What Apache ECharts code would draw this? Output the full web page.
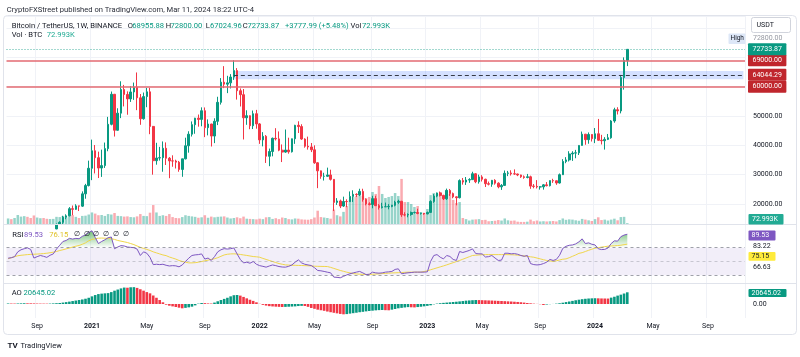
<!DOCTYPE html>
<html><head><meta charset="utf-8">
<script src="https://cdn.jsdelivr.net/npm/echarts@6/dist/echarts.min.js"></script>
<style>html,body{margin:0;padding:0;background:#fff}#c{width:800px;height:357px}</style>
</head><body><div id="c"></div>
<script>
// ---------- data ----------
const startDate = '2020-07-06';   // first weekly bar (Monday)
const totalWeeks = 229;           // bars + empty future weeks on the time scale
const opens = [
9073,9234,9160,9930,11070,11650,11870,11680,11650,10280,
10440,10920,10780,10670,11380,11500,13030,13760,15480,15960,
18400,18180,19360,19270,23460,26280,32180,38150,35790,32260,
33090,38880,47170,57410,45140,50970,59030,57350,55840,58200,
59770,56200,49070,56620,58240,46450,34770,35680,35800,39000,
35600,34700,34660,34260,31780,35400,39850,43800,47050,49270,
48850,51800,46030,47260,43170,48200,54660,61530,60860,61300,
63280,65500,58620,57270,49400,50100,46680,50780,47300,41860,
43080,36280,37900,42400,42200,38350,37700,38400,37800,42240,
46830,46400,42150,39700,39450,38470,34050,31300,29450,29450,
29900,28400,20550,21030,19300,20850,20800,22580,23300,23170,
24300,21520,20050,19830,21830,19420,18800,19050,19070,19180,
19570,20600,20920,16300,16280,16450,17100,17100,16780,16840,
16620,17130,20880,22700,23770,22940,21780,24640,23560,22430,
22150,27980,27480,28170,28320,30310,27590,29230,28430,26920,
26750,28070,27100,25840,26340,30460,30580,30290,30230,29900,
29280,29050,29280,26100,26010,25820,25840,26530,26250,27970,
27920,27150,29990,34500,35030,37060,37350,37450,39970,43800,
41940,43710,42280,43950,41730,41580,42030,42580,48300,52140,
51730,63110,68955.88];
const highs = [
9470,9330,9990,12100,11900,12480,12470,11800,12090,10800,
11180,10990,10950,11500,11720,13350,14100,15970,16480,18950,
19480,19920,19420,24300,26870,34780,41950,40100,37850,38530,
40950,49700,58350,57520,52640,61840,60600,58400,60200,61400,
64850,57500,58000,59600,59600,46620,40870,39480,41330,41000,
36000,36600,35100,34680,35400,42600,44800,48150,49380,50500,
52950,52920,48850,47360,49230,56560,62930,67000,63710,64280,
69000,66340,59400,59200,51950,50200,51870,52090,47570,44500,
43500,38900,42650,45850,44750,40300,45400,42600,42300,47000,
48200,47200,42400,42970,40800,40000,34250,31400,30650,32400,
31700,28500,22000,21500,22500,21600,24280,24670,23650,25200,
25200,21900,20580,22800,22800,19950,20400,20480,19950,19700,
21100,21450,21070,17190,16800,17420,17420,18400,17000,16950,
17400,21260,23380,23900,24250,23150,25250,25130,23900,22600,
28400,28870,29200,28800,31000,30550,30000,29820,28630,27650,
28200,28450,27400,26800,31430,31280,31500,31800,30340,30000,
29730,30250,29660,26800,28140,26100,26800,27480,28000,28600,
28000,30400,35280,35980,38000,38000,38450,40000,44700,43900,
44400,43800,45900,49000,43580,42800,43880,48600,52820,52990,
64000,69990,72800];
const lows = [
9000,9005,9030,9900,10950,11120,11375,11130,9880,9850,
10270,10130,10370,10530,11200,11410,12970,13200,14800,15800,
16200,18000,17600,19000,21800,25990,28130,30420,28850,29240,
32300,37990,46820,43000,45000,49280,53270,50430,54800,55500,
52000,47000,48750,53000,43800,30000,33400,34800,31000,33300,
28800,32700,32100,31000,29280,35200,37500,43000,43950,46370,
46500,42800,43400,39600,40750,46900,53900,59500,57800,59400,
62300,55600,53250,42000,47000,45500,45550,45680,40500,39650,
34000,32900,36250,41660,38000,34300,37450,37150,37550,40500,
44200,41870,39200,38540,37700,33700,25400,28600,28000,29250,
28000,17600,19700,18600,19000,18900,20700,20700,22400,22700,
20800,19550,19520,18540,19320,18100,18470,19000,18190,18900,
19200,20050,15600,15800,15480,16000,16730,16500,16400,16330,
16500,17100,20400,22300,22550,21350,21400,22750,21950,19550,
21900,26600,26500,27200,28170,27100,26940,27670,25800,26350,
25870,26600,25350,24800,26250,29500,29700,29950,29500,28900,
28600,28750,25170,25350,25300,24900,24900,26000,25990,27200,
26540,26970,29880,33900,34500,34700,35600,36700,39900,40200,
40550,41300,40750,41500,40300,38550,41800,42250,47700,50520,
50900,59000,67024.96];
const closes = [
9234,9160,9930,11070,11650,11870,11680,11650,10280,10440,
10920,10780,10670,11380,11500,13030,13760,15480,15960,18400,
18180,19360,19270,23460,26280,32180,38150,35790,32260,33090,
38880,47170,57410,45140,50970,59030,57350,55840,58200,59770,
56200,49070,56620,58240,46450,34770,35680,35800,39000,35600,
34700,34660,34260,31780,35400,39850,43800,47050,49270,48850,
51800,46030,47260,43170,48200,54660,61530,60860,61300,63280,
65500,58620,57270,49400,50100,46680,50780,47300,41860,43080,
36280,37900,42400,42200,38350,37700,38400,37800,42240,46830,
46400,42150,39700,39450,38470,34050,31300,29450,29450,29900,
28400,20550,21030,19300,20850,20800,22580,23300,23170,24300,
21520,20050,19830,21830,19420,18800,19050,19070,19180,19570,
20600,20920,16300,16280,16450,17100,17100,16780,16840,16620,
17130,20880,22700,23770,22940,21780,24640,23560,22430,22150,
27980,27480,28170,28320,30310,27590,29230,28430,26920,26750,
28070,27100,25840,26340,30460,30580,30290,30230,29900,29280,
29050,29280,26100,26010,25820,25840,26530,26250,27970,27920,
27150,29990,34500,35030,37060,37350,37450,39970,43800,41940,
43710,42280,43950,41730,41580,42030,42580,48300,52140,51730,
63110,68960,72733.87];
const volumes = [ // K BTC
480,420,520,780,640,680,620,520,740,560,
500,520,450,430,440,620,600,700,560,680,
780,620,520,700,720,820,1000,900,760,780,
700,860,820,950,700,680,640,660,600,580,
660,860,700,680,980,1640,1000,700,760,700,
860,600,520,500,600,760,700,660,620,540,
580,760,540,640,580,620,640,660,560,480,
520,580,500,640,460,440,420,400,460,420,
580,600,440,500,420,560,520,420,400,480,
460,400,380,370,420,560,1150,600,560,520,
460,1250,760,660,1050,1560,2080,2340,2420,2600,
2420,2250,2340,2770,2600,3290,2600,2250,2340,2420,
2680,2420,3900,1900,1900,1730,1470,1560,1040,950,
1300,2500,2680,2600,2770,2420,2940,2600,2080,1820,
1900,520,420,300,380,400,420,340,360,240,
260,280,340,300,480,320,280,300,200,180,
180,200,380,240,300,220,240,220,240,260,
220,340,480,360,400,380,320,280,440,380,
320,260,420,580,340,380,300,380,460,320,
600,620,72.993];
const rsi = [
54.8,55.5,57,64,67,68.5,69.8,67.5,55,57,
58.7,57.5,56,59,61,68,73.5,79,80.5,83.5,
82.5,83.5,83,86.5,88.5,92,94.5,85,76,79,
81.5,84.5,85.5,68.5,71,73,72.5,71,70.5,70,
68,58.7,64,62,56,45.5,46,45.5,46,44.5,
43.5,44,43.7,42.3,45,50,54.8,58.7,59.6,60,
61,53.5,55,51.5,57,64,67,68.6,68,68.6,
69.6,61,53,48,49,47.5,50,46,44,43,
41.8,43.5,45,44,42.7,42,41.8,43,45,49,
52.4,48,46,45,44.2,41,37,36.5,35.6,34.5,
33.6,27.4,27,26.4,28.5,30.5,32.2,33.5,34.6,35.6,
33.5,31,31.5,34.6,33.5,33.1,33.5,34.6,35,35.6,
38.5,39.4,32.2,33,33.6,34,34.6,34.6,34.6,34.6,
35,50,58.7,60,56.2,53.8,58.7,57.3,53,51.5,
64.5,63,64.5,66,68.3,61.5,61.1,61,56.5,57,
58.7,55,51.5,52,62,62,61.1,61.5,60.5,58.7,
57.5,58.7,47,45.5,45,45.5,47,49,53,51.5,
53,59,69,72,73.5,74,75.5,78.5,82.8,76,
77,75,74,68.5,67.3,67.5,69.5,76,80,79.5,
86,88.3,89.53];
const rsiMa = [
54,55.5,57,58.3,59,59.5,60,60.3,60.5,60.8,
61.1,61.5,62,62.7,63.5,64.5,65.9,67,68.3,69.5,
71,72.2,73.2,75,77,80,82,83,83.8,84,
83.8,83.5,83,82,80.5,79.5,78.5,77.5,76,74.5,
72.5,70.5,69,67.5,66,64,62.5,61,59.5,58.5,
56.5,55,53.5,51.5,50,49,48,48,48.3,49,
50,51,52,53,54,55.5,57.5,59.5,60.5,61,
61.1,60.8,60.2,59.5,58.8,58,57.2,56.8,56.2,54.5,
53,51.5,50,48.5,47,46,45.1,44.8,44.5,44.5,
44.3,44.2,44,43.8,43.6,43.2,43,42.9,42.8,42.7,
41.5,40,38.5,37,35.8,34.5,33.5,32.5,32,31.6,
31.4,31.2,31.3,31.5,31.8,32.1,32.5,32.8,33.1,33.4,
33.6,33.8,34,34.3,34.6,34.6,34.6,34.6,34.6,35.5,
36.5,38,39.4,40.8,42.2,43.6,45.1,46.7,48.3,49.9,
51.5,53.3,55.1,56.9,58.7,59.1,59.5,59.8,60,60,
60,60,60,60,60,59.9,59.8,59.6,59.2,58.7,
58.1,57.5,56.8,56.2,55,53.8,52.6,51.5,50.8,50.2,
51,52.2,53.3,53.8,55.5,57.5,59.5,61.8,62.8,64.5,
66.2,67.8,69.4,70.1,70.8,71.5,72.2,72.5,72.8,73.1,
73.6,74.4,75.15];
const ao = [
900,800,750,900,1100,1300,1200,1150,1000,800,
700,650,600,700,1000,1400,1800,2500,3300,4200,
5200,6100,7000,8000,9300,11000,13500,15800,17500,18300,
18800,19200,21000,23500,25500,27500,29000,28700,29500,29700,
28400,26000,23500,21000,18800,15000,11000,7000,3000,-1200,
-3000,-4200,-5300,-6500,-7600,-6800,-5900,-4700,-2400,600,
1700,1500,1000,800,2500,4800,7000,9000,11000,13500,
15500,15900,14800,12500,10000,7500,5500,3000,300,-1500,
-2800,-3800,-4300,-4700,-5000,-5300,-5100,-4800,-4500,-4200,
-3600,-3300,-3500,-5000,-7000,-8500,-10000,-11000,-12000,-13300,
-14500,-15500,-16500,-17500,-18200,-17800,-17000,-16200,-15400,-14500,
-13800,-13000,-12400,-11800,-11200,-10800,-10600,-10900,-11100,-10000,
-8800,-7600,-6800,-6100,-5500,-5800,-6000,-5400,-4800,-4100,
-3300,-2300,-600,700,1400,2000,2500,3000,3500,4000,
4600,5200,5900,6300,6700,7000,6900,6700,6500,6300,
6100,5800,5500,5300,5000,4700,4400,4000,3600,3100,
2500,1800,1200,600,200,-400,-1700,-900,-300,100,
600,1300,2300,3400,4400,5500,6600,7600,8500,9200,
9700,10000,10200,10000,9800,9700,9600,11200,12800,14800,
16500,18500,20645.02];
const levelLines = [69000, 60000];
const keyLevel = 64044.29;
const keyBand = [62500, 65350];
const keyStartIndex = 70;       // Nov 2021 top
const lastClose = 72733.87;
const priceLabelValues = [20000, 30000, 40000, 50000];

// ---------- helpers ----------
const FONT = 'Roboto, "Noto Sans", sans-serif';
const UP = '#089981', DN = '#f23645', TXT = '#131722';
const LF = 7.6; // legend font size
const MONTHS = ['Jan','Feb','Mar','Apr','May','Jun','Jul','Aug','Sep','Oct','Nov','Dec'];
const dates = [];
{ const t0 = Date.parse(startDate + 'T00:00:00Z');
  for (let i = 0; i < totalWeeks; i++) dates.push(new Date(t0 + i * 7 * 864e5).toISOString().slice(0, 10)); }
function isMark(v) { const m = +v.slice(5, 7), d = +v.slice(8, 10); return d <= 7 && (m === 1 || m === 5 || m === 9); }
function fmtDate(v) { const m = +v.slice(5, 7); return m === 1 ? '{y|' + v.slice(0, 4) + '}' : MONTHS[m - 1]; }

const candleData = opens.map((o, i) => [o, closes[i], lows[i], highs[i]]);
const volData = volumes.map((v, i) => ({ value: v, itemStyle: { color: closes[i] >= opens[i] ? 'rgba(8,153,129,0.42)' : 'rgba(242,54,69,0.42)' } }));
const aoData = ao.map((v, i) => ({ value: v, itemStyle: { color: (i === 0 || v >= ao[i - 1]) ? UP : DN } }));
const obData = rsi.map(v => Math.max(v, 70));
const osData = rsi.map(v => Math.min(v, 30));

function T(text, x, y, fill, size, extra) {
  return Object.assign({ type: 'text', x: x, y: y, silent: true, z: 100,
    style: { text: text, fill: fill || TXT, font: (size || 7) + 'px ' + FONT, verticalAlign: 'middle', align: 'left' } }, extra || {});
}
function R(x, y, w, h, fill, stroke, r) {
  return { type: 'rect', silent: true, z: 99, shape: { x: x, y: y, width: w, height: h, r: r || 0 },
    style: { fill: fill || 'none', stroke: stroke || null, lineWidth: 1 } };
}
function Ln(x1, y1, x2, y2, c) {
  return { type: 'line', silent: true, z: 98, shape: { x1: x1, y1: y1, x2: x2, y2: y2 }, style: { stroke: c, lineWidth: 1 } };
}

const gridL = 6.5, gridR = 55;
const xBase = (gi, showLabel) => ({
  type: 'category', gridIndex: gi, data: dates, boundaryGap: true,
  axisLine: { show: false }, axisTick: { show: false },
  axisLabel: showLabel ? {
    show: true, interval: (i, v) => isMark(v), formatter: fmtDate, color: TXT, fontSize: 7, fontFamily: FONT, margin: 5,
    rich: { y: { fontWeight: 'bold', fontSize: 7, fontFamily: FONT, color: TXT } }
  } : { show: false },
  splitLine: { show: true, interval: (i, v) => isMark(v), lineStyle: { color: '#f0f2f7', width: 1 } }
});

const lblBase = { show: true, position: 'end', distance: 3, color: '#fff', fontSize: 7, fontFamily: FONT,
  padding: [2, 4.5, 2, 4.5], lineHeight: 8, borderRadius: 1, opacity: 1 };

const option = {
  animation: false,
  backgroundColor: '#fff',
  grid: [
    { left: gridL, right: gridR, top: 16, height: 208 },
    { left: gridL, right: gridR, top: 225, height: 58 },
    { left: gridL, right: gridR, top: 284, height: 34 }
  ],
  xAxis: [xBase(0, false), xBase(1, false), xBase(2, true)],
  yAxis: [
    { type: 'value', gridIndex: 0, position: 'right', min: 13181, max: 84098, minInterval: 10000, maxInterval: 10000,
      axisLine: { show: false }, axisTick: { show: false },
      axisLabel: { color: TXT, fontSize: 7, fontFamily: FONT, margin: 8,
        formatter: v => priceLabelValues.indexOf(v) >= 0 ? v.toFixed(2) : '' },
      splitLine: { lineStyle: { color: '#f0f2f7' } } },
    { type: 'value', gridIndex: 0, min: 0, max: 18000, show: false },
    { type: 'value', gridIndex: 1, min: 18.84, max: 102.9, show: false },
    { type: 'value', gridIndex: 2, min: -24691, max: 35273, show: false }
  ],
  series: [
    { name: 'Vol', type: 'bar', xAxisIndex: 0, yAxisIndex: 1, data: volData, barWidth: '78%', silent: true, z: 1 },
    { name: 'BTC', type: 'candlestick', xAxisIndex: 0, yAxisIndex: 0, data: candleData, barWidth: '64%', silent: true, z: 3,
      itemStyle: { color: UP, color0: DN, borderColor: UP, borderColor0: DN, borderWidth: 1 } },
    { name: 'levels', type: 'line', xAxisIndex: 0, yAxisIndex: 0, data: [], clip: false, silent: true, z: 4,
      markArea: { silent: true, itemStyle: { color: 'rgba(41,98,255,0.2)' },
        data: [[{ xAxis: dates[keyStartIndex], yAxis: keyBand[0] }, { xAxis: dates[totalWeeks - 1], yAxis: keyBand[1] }]] },
      markLine: { symbol: ['none', 'none'], silent: true, label: lblBase,
        data: [
          { yAxis: levelLines[0], lineStyle: { color: '#e36a72', width: 1.5, type: 'solid' },
            label: Object.assign({}, lblBase, { formatter: levelLines[0].toFixed(2), backgroundColor: '#c0262d' }) },
          { yAxis: levelLines[1], lineStyle: { color: '#e36a72', width: 1.5, type: 'solid' },
            label: Object.assign({}, lblBase, { formatter: levelLines[1].toFixed(2), backgroundColor: '#c0262d' }) },
          [ { coord: [dates[keyStartIndex], keyLevel], lineStyle: { color: '#363a45', width: 1, type: [4, 3] },
              label: Object.assign({}, lblBase, { formatter: keyLevel.toFixed(2), backgroundColor: '#c0262d', distance: 4.6 }) },
            { coord: [dates[totalWeeks - 1], keyLevel] } ],
          { yAxis: lastClose, lineStyle: { color: 'rgba(8,153,129,0.75)', width: 1, type: [1, 2] },
            label: Object.assign({}, lblBase, { formatter: lastClose.toFixed(2), backgroundColor: '#089981' }) }
        ] } },
    { name: 'ob', type: 'line', xAxisIndex: 1, yAxisIndex: 2, data: obData, symbol: 'none', silent: true, z: 2,
      lineStyle: { width: 0, opacity: 0 },
      areaStyle: { origin: 70, opacity: 1,
        color: new echarts.graphic.LinearGradient(0, 227, 0, 247.7, [{ offset: 0, color: 'rgba(76,175,80,0.95)' }, { offset: 1, color: 'rgba(76,175,80,0)' }], true) } },
    { name: 'os', type: 'line', xAxisIndex: 1, yAxisIndex: 2, data: osData, symbol: 'none', silent: true, z: 2,
      lineStyle: { width: 0, opacity: 0 },
      areaStyle: { origin: 30, opacity: 1,
        color: new echarts.graphic.LinearGradient(0, 275.3, 0, 296, [{ offset: 0, color: 'rgba(242,54,69,0)' }, { offset: 1, color: 'rgba(242,54,69,0.95)' }], true) } },
    { name: 'RSI MA', type: 'line', xAxisIndex: 1, yAxisIndex: 2, data: rsiMa, symbol: 'none', silent: true, z: 3,
      lineStyle: { color: '#f0d64a', width: 1 } },
    { name: 'RSI', type: 'line', xAxisIndex: 1, yAxisIndex: 2, data: rsi, symbol: 'none', silent: true, z: 4,
      lineStyle: { color: '#7e57c2', width: 1 },
      markArea: { silent: true, itemStyle: { color: 'rgba(126,87,194,0.1)' }, data: [[{ yAxis: 30 }, { yAxis: 70 }]] },
      markLine: { symbol: ['none', 'none'], silent: true, label: { show: false },
        lineStyle: { color: '#787b86', width: 1, type: [3, 3], opacity: 0.7 },
        data: [{ yAxis: 70 }, { yAxis: 50, lineStyle: { opacity: 0.35 } }, { yAxis: 30 }] } },
    { name: 'AO', type: 'bar', xAxisIndex: 2, yAxisIndex: 3, data: aoData, barWidth: '80%', silent: true, z: 2 }
  ],
  graphic: [
    R(3.5, 15.5, 793, 319, null, '#e0e3eb', 4),
    Ln(3.5, 224.5, 796.5, 224.5, '#e0e3eb'),
    Ln(3.5, 283.5, 796.5, 283.5, '#e0e3eb'),
    T('CryptoFXStreet published on TradingView.com, Mar 11, 2024 18:22 UTC-4', 6.7, 10, '#2a2e39', LF),
    T('Bitcoin / TetherUS, 1W, BINANCE', 11.7, 26, TXT, LF),
    T('O', 127.7, 26, TXT, LF), T('68955.88', 132.2, 26, UP, LF),
    T('H', 165.7, 26, TXT, LF), T('72800.00', 170.5, 26, UP, LF),
    T('L', 205.7, 26, TXT, LF), T('67024.96', 210, 26, UP, LF),
    T('C', 242.7, 26, TXT, LF), T('72733.87', 247.5, 26, UP, LF),
    T('+3777.99 (+5.48%)', 285, 26, UP, LF),
    T('Vol', 350.5, 26, TXT, LF), T('72.993K', 362, 26, UP, LF),
    T('Vol · BTC', 11.7, 34.7, TXT, LF), T('72.993K', 46.7, 34.7, '#22ab94', LF),
    T('RSI', 12.3, 234.7, TXT, LF), T('89.53', 24, 234.7, '#7e57c2', LF), T('76.15', 49.3, 234.7, '#e0c22a', LF),
    T('∅', 74, 234.7, TXT, 7), T('∅', 83.7, 234.7, TXT, 7), T('∅', 93.4, 234.7, TXT, 7),
    T('∅', 103.1, 234.7, TXT, 7), T('∅', 112.8, 234.7, TXT, 7), T('∅', 122.5, 234.7, TXT, 7),
    T('AO', 11.7, 293.3, TXT, LF), T('20645.02', 23.5, 293.3, UP, LF),
    R(751.5, 17.5, 39, 15, '#fff', '#d1d4dc', 2), T('USDT', 756.5, 25.5, TXT, 7),
    T('72800.00', 753, 38.5, '#9598a1', 7),
    R(728.5, 33.5, 17, 10.5, '#dde7f7', null, 1), T('High', 730.5, 38.8, TXT, 6.5),
    R(748.5, 214, 35, 10.5, '#22ab94', null, 1), T('72.993K', 752, 219.3, '#fff', 7),
    R(748.5, 230.5, 27, 10, '#7e57c2', null, 1), T('89.53', 751.5, 235.5, '#fff', 7),
    T('83.22', 753, 246, TXT, 7),
    R(748.5, 252, 27, 8.7, '#ffeb3b', null, 1), T('75.15', 751.5, 256.4, TXT, 7),
    T('66.63', 753, 267, TXT, 7),
    R(748.5, 289, 38, 8, '#089981', null, 1), T('20645.02', 751.5, 293, '#fff', 7),
    T('0.00', 753, 304, TXT, 7),
    { type: 'text', x: 7.5, y: 346, silent: true, z: 100, style: { text: 'TV', fill: TXT, font: 'bold 8px ' + FONT, verticalAlign: 'middle' } },
    T('TradingView', 20.5, 346, TXT, 7.5)
  ]
};
const chart = echarts.init(document.getElementById('c'), null, { renderer: 'canvas' });
chart.setOption(option);
</script></body></html>
